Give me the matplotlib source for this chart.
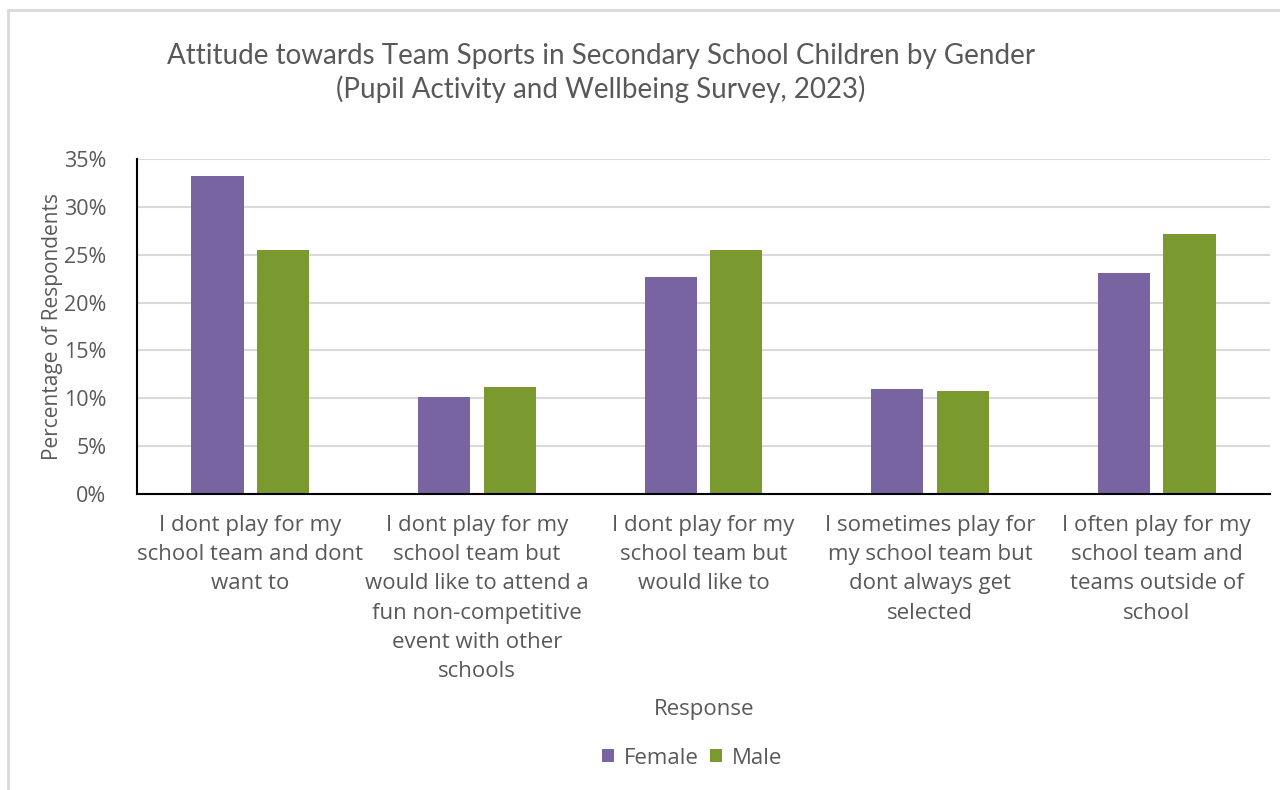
import matplotlib
matplotlib.use("Agg")
import matplotlib.pyplot as plt
import numpy as np
from matplotlib.patches import Rectangle

responses = [
    "I dont play for my\nschool team and dont\nwant to",
    "I dont play for my\nschool team but\nwould like to attend a\nfun non-competitive\nevent with other\nschools",
    "I dont play for my\nschool team but\nwould like to",
    "I sometimes play for\nmy school team but\ndont always get\nselected",
    "I often play for my\nschool team and\nteams outside of\nschool",
]
female_pct = [33.2, 10.1, 22.7, 11.0, 23.1]
male_pct = [25.5, 11.2, 25.5, 10.8, 27.2]
y_ticks = [0, 5, 10, 15, 20, 25, 30, 35]

FEMALE_COLOR = "#7864A0"
MALE_COLOR = "#7A992E"
TEXT_COLOR = "#595959"
GRID_COLOR = "#D9D9D9"

plt.rcParams["font.family"] = ["Open Sans", "DejaVu Sans"]

fig = plt.figure(figsize=(12.8, 7.9), dpi=100)
ax = fig.add_axes([137 / 1280, 1 - 494 / 790, (1270 - 137) / 1280, (494 - 159) / 790])

x = np.arange(len(responses))
width = 0.23
gap = 0.03
ax.bar(x - width / 2 - gap, female_pct, width, color=FEMALE_COLOR, label="Female", zorder=3)
ax.bar(x + width / 2 + gap, male_pct, width, color=MALE_COLOR, label="Male", zorder=3)

ax.set_xlim(-0.5, len(responses) - 0.5)
ax.set_ylim(0, 35)
ax.set_yticks(y_ticks)
ax.set_yticklabels([f"{v}%" for v in y_ticks])
ax.set_xticks(x)
ax.set_xticklabels(responses, linespacing=1.52)

ax.tick_params(axis="both", length=0, colors=TEXT_COLOR)
ax.tick_params(axis="x", pad=15, labelsize=16)
ax.tick_params(axis="y", pad=22, labelsize=15.5)
ax.grid(True, axis="y", color=GRID_COLOR, linewidth=1.5, zorder=0)
for side in ["top", "right"]:
    ax.spines[side].set_visible(False)
for side in ["left", "bottom"]:
    ax.spines[side].set_color("black")
    ax.spines[side].set_linewidth(1.5)
    ax.spines[side].set_zorder(4)

ax.set_ylabel("Percentage of Respondents", color=TEXT_COLOR, fontsize=15, labelpad=1)
fig.text(704 / 1280, 1 - 709 / 790, "Response", ha="center", va="center",
         color=TEXT_COLOR, fontsize=16)

fig.text(601 / 1280, 1 - 73 / 790,
         "Attitude towards Team Sports in Secondary School Children by Gender\n"
         "(Pupil Activity and Wellbeing Survey, 2023)",
         ha="center", va="center", color=TEXT_COLOR, fontsize=20, linespacing=1.3,
         family=["Lato", "DejaVu Sans"])

handles, labels = ax.get_legend_handles_labels()
fig.legend(handles, labels, loc="center", bbox_to_anchor=(692 / 1280, 1 - 758 / 790),
           ncol=2, frameon=False, fontsize=16, labelcolor=TEXT_COLOR,
           handlelength=0.55, handleheight=0.55, handletextpad=0.45, columnspacing=0.5)

# light frame around the chart area
fig.patches.append(Rectangle((8 / 1280, -0.1), 1.2, 1.1 - 10 / 790,
                             transform=fig.transFigure, fill=False,
                             edgecolor=GRID_COLOR, linewidth=2))

fig.savefig("out.png", dpi=100, facecolor="white")
